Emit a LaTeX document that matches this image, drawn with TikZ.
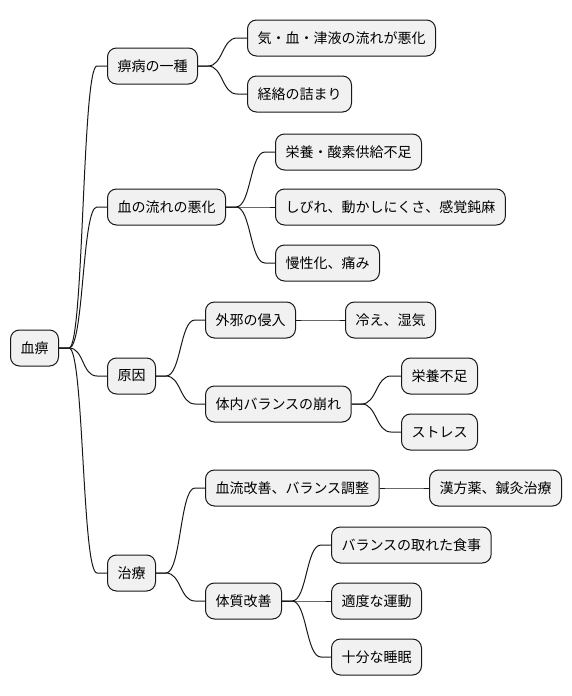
\documentclass[tikz,border=0pt]{standalone}
\usepackage{fontspec}
\setmainfont{Noto Sans CJK JP}
\usetikzlibrary{arrows.meta}
\definecolor{boxfill}{HTML}{F1F1F1}
\definecolor{boxline}{HTML}{181818}

\begin{document}
\begin{tikzpicture}[x=1pt,y=-1pt]
\useasboundingbox (0,0) rectangle (572,696);
\begin{scope}[every node/.style={draw=boxline,fill=boxfill,line width=1pt,
              rounded corners=9pt,anchor=west,minimum height=36pt,
              inner xsep=10pt,inner ysep=0pt,font=\fontsize{14}{16}\selectfont}]
    \node (root) at (10,348) {血痹};
    \node (a) at (107,66) {痹病の一種};
    \node (a1) at (247,38) {気・血・津液の流れが悪化};
    \node (a2) at (247,94) {経絡の詰まり};
    \node (b) at (107,207) {血の流れの悪化};
    \node (b1) at (275,152) {栄養・酸素供給不足};
    \node (b2) at (275,207) {しびれ、動かしにくさ、感覚鈍麻};
    \node (b3) at (275,263) {慢性化、痛み};
    \node (c) at (107,376) {原因};
    \node (c1) at (205,320) {外邪の侵入};
    \node (c11) at (345,320) {冷え、湿気};
    \node (c2) at (205,404) {体内バランスの崩れ};
    \node (c21) at (401,376) {栄養不足};
    \node (c22) at (401,432) {ストレス};
    \node (d) at (107,573) {治療};
    \node (d1) at (205,488) {血流改善、バランス調整};
    \node (d11) at (429,488) {漢方薬、鍼灸治療};
    \node (d2) at (205,601) {体質改善};
    \node (d21) at (331,545) {バランスの取れた食事};
    \node (d22) at (331,601) {適度な運動};
    \node (d23) at (331,657) {十分な睡眠};
\end{scope}
\begin{scope}[every edge/.style={draw=boxline,line width=1pt,
              to path={(\tikztostart.east) -- ++(10pt,0)
                .. controls +(15pt,0) and +(-15pt,0) .. ([xshift=-10pt]\tikztotarget.west)
                -- (\tikztotarget.west)}}]
    \path (root) edge (a);
    \path (root) edge (b);
    \path (root) edge (c);
    \path (root) edge (d);
    \path (a) edge (a1);
    \path (a) edge (a2);
    \path (b) edge (b1);
    \path (b) edge (b2);
    \path (b) edge (b3);
    \path (c) edge (c1);
    \path (c) edge (c2);
    \path (c1) edge (c11);
    \path (c2) edge (c21);
    \path (c2) edge (c22);
    \path (d) edge (d1);
    \path (d) edge (d2);
    \path (d1) edge (d11);
    \path (d2) edge (d21);
    \path (d2) edge (d22);
    \path (d2) edge (d23);
\end{scope}
\end{tikzpicture}
\end{document}
